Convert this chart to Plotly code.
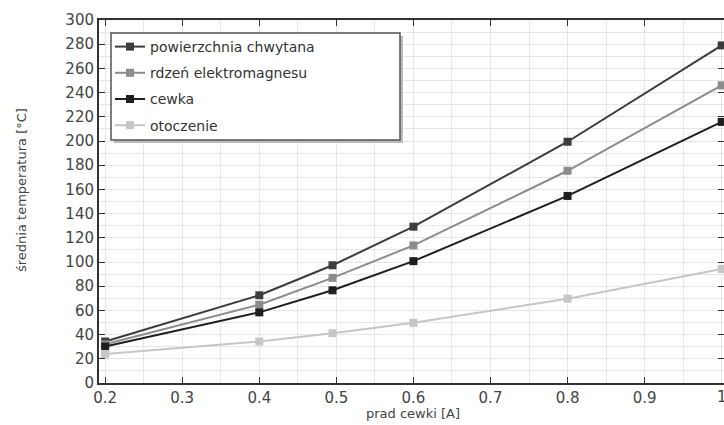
import plotly.graph_objects as go

current = [0.2, 0.4, 0.495, 0.6, 0.8, 1.0]
powierzchnia = [34.3, 72.5, 97.3, 129.2, 199.4, 279.0]
rdzen = [32.0, 64.7, 86.9, 113.7, 175.4, 246.0]
cewka = [30.1, 58.4, 76.6, 100.7, 154.6, 215.8]
otoczenie = [24.0, 34.3, 41.2, 49.8, 69.7, 94.3]
x_ticks = [0.2, 0.3, 0.4, 0.5, 0.6, 0.7, 0.8, 0.9, 1.0]
x_tick_text = ["0.2", "0.3", "0.4", "0.5", "0.6", "0.7", "0.8", "0.9", "1"]

series = [
    ("powierzchnia chwytana", powierzchnia, "#3c3c3c"),
    ("rdzeń elektromagnesu", rdzen, "#8c8c8c"),
    ("cewka", cewka, "#1e1e1e"),
    ("otoczenie", otoczenie, "#c6c6c6"),
]

FONT = "DejaVu Sans"
fig = go.Figure()
for name, vals, col in series:
    fig.add_trace(go.Scatter(
        x=current, y=vals, name=name, mode="lines+markers",
        legendgroup=name,
        line=dict(color=col, width=2),
        marker=dict(symbol="square", size=8, color=col),
    ))

FW, FH = 724, 425
L, T = 99, 20
W, H = 625, 363
def px(x):
    return (x - L) / W
def py(y):
    return (T + H - y) / H

fig.add_shape(type="rect", xref="paper", yref="paper",
              x0=px(114), x1=px(403), y0=py(143), y1=py(36),
              fillcolor="#bbbbbb", line=dict(width=0), layer="above")
fig.add_shape(type="rect", xref="paper", yref="paper",
              x0=px(111), x1=px(400), y0=py(140), y1=py(33),
              fillcolor="white", line=dict(color="#555555", width=1.5), layer="above")

fig.add_annotation(text="prad cewki [A]", xref="paper", yref="paper",
                   x=px(413), y=py(413), xanchor="center", yanchor="middle",
                   showarrow=False, font=dict(size=13, color="#444444", family=FONT))
fig.add_annotation(text="średnia temperatura [°C]", xref="paper", yref="paper",
                   x=px(22), y=py(190), xanchor="center", yanchor="middle", textangle=-90,
                   showarrow=False, font=dict(size=13, color="#444444", family=FONT))
# last x tick label, partly cut by the right edge as in the reference
fig.add_annotation(text=x_tick_text[-1], xref="x", yref="paper",
                   x=x_ticks[-1], y=py(397), xanchor="center", yanchor="middle",
                   showarrow=False, font=dict(size=15, color="#444444", family=FONT))

fig.update_layout(
    width=FW, height=FH,
    margin=dict(l=L, r=FW - L - W, t=T, b=FH - T - H, autoexpand=False),
    paper_bgcolor="white", plot_bgcolor="white",
    font=dict(family=FONT, color="#444444"),
    showlegend=True,
    legend=dict(
        x=px(110), y=py(31), xanchor="left", yanchor="top",
        bgcolor="rgba(0,0,0,0)", borderwidth=0,
        font=dict(size=14, color="#333333", family=FONT),
        tracegroupgap=5, itemwidth=30,
    ),
    xaxis=dict(
        range=[0.192, 1.003], tickmode="array",
        tickvals=x_ticks[:-1], ticktext=x_tick_text[:-1], automargin=False,
        showgrid=True, gridcolor="#e6e6e6", gridwidth=1,
        minor=dict(dtick=0.05, tick0=0.2, showgrid=True, gridcolor="#e6e6e6", gridwidth=1),
        showline=True, linecolor="#333333", linewidth=2, mirror="ticks",
        ticks="inside", ticklen=6, tickcolor="#333333",
        tickfont=dict(size=15, color="#444444", family=FONT),
        zeroline=False,
    ),
    yaxis=dict(
        range=[0, 300], dtick=20, automargin=False,
        showgrid=True, gridcolor="#e6e6e6", gridwidth=1,
        minor=dict(dtick=10, showgrid=True, gridcolor="#e6e6e6", gridwidth=1),
        showline=True, linecolor="#333333", linewidth=2, mirror="ticks",
        ticks="inside", ticklen=6, tickcolor="#333333",
        tickfont=dict(size=15, color="#444444", family=FONT),
        zeroline=False,
    ),
)

fig.write_html("out.html", config={"displayModeBar": False},
               post_script="document.body.style.margin='0';document.body.style.overflow='hidden';")
